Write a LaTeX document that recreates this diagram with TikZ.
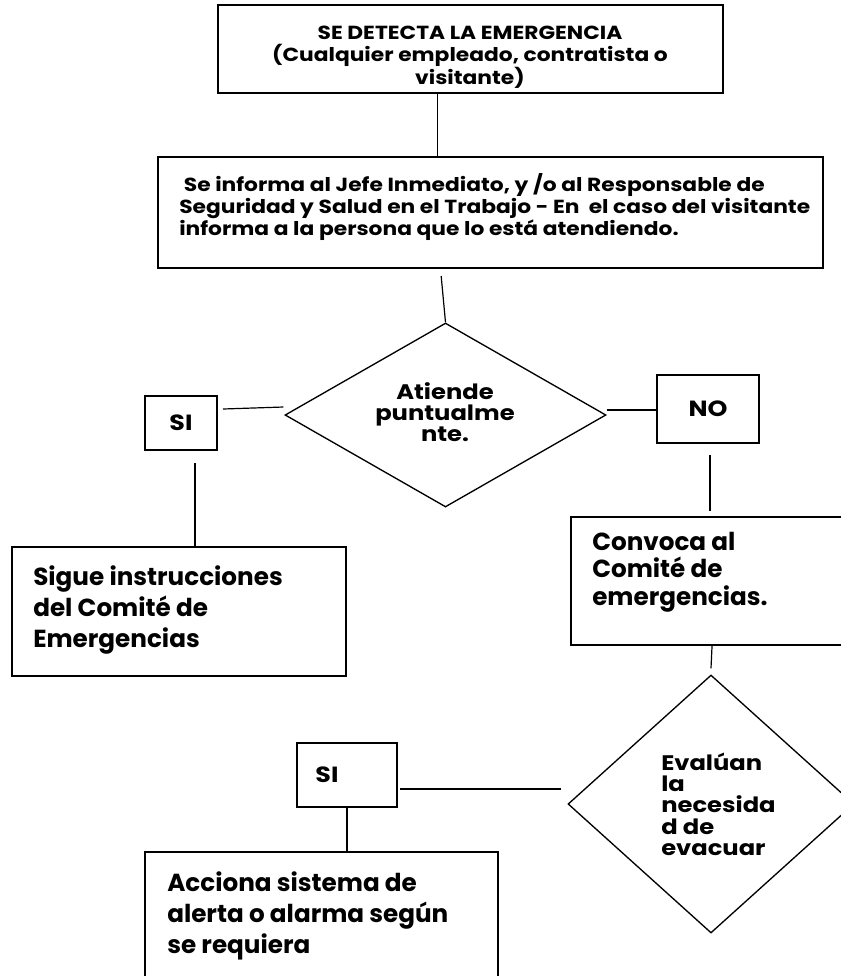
\documentclass[tikz,border=0pt]{standalone}
\usepackage{fontspec}
\setmainfont{Poppins}
\newfontfamily\widefont{Poppins}[FakeStretch=1.15]
\usetikzlibrary{shapes.geometric}
\lineskiplimit=-100pt

\begin{document}
\begin{tikzpicture}[x=0.75pt,y=-0.75pt,font=\bfseries]
  \tikzset{
    frame/.style={draw,line width=1.5pt,inner sep=0pt},
    decision/.style={diamond,draw,line width=1pt,inner sep=0pt},
    link/.style={line width=0.9pt},
    smalltxt/.style={inner sep=0pt,font=\widefont\fontsize{14.2}{16.2}\selectfont\bfseries},
    midtxt/.style={inner sep=0pt,font=\widefont\fontsize{15.8}{16}\selectfont\bfseries},
    bigtxt/.style={inner sep=0pt,align=left,font=\fontsize{18.5}{23.5}\selectfont\bfseries},
    yesno/.style={font=\widefont\fontsize{16.5}{20}\selectfont\bfseries}
  }
  \useasboundingbox (0,0) rectangle (841,976);

  % Detection and report.
  \node[frame,minimum width=378.75pt,minimum height=66pt] (det) at (470.5,49) {};
  \node[smalltxt,align=center,font=\widefont\fontsize{14.2}{16.8}\selectfont\bfseries] (detT) at (470,57)
    {SE DETECTA LA EMERGENCIA\\(Cualquier empleado, contratista o\\visitante)};
  \node[frame,minimum width=498.75pt,minimum height=83.25pt] (inf) at (490.5,212.5) {};
  \node[smalltxt,align=left,anchor=west] (infT) at (179,207)
    {~Se informa al Jefe Inmediato, y /o al Responsable de\\Seguridad y Salud en el Trabajo - En~~el caso del visitante\\informa a la persona que lo est\'a atendiendo.};
  \draw[link] ([xshift=-25pt]det.south) -- ([xshift=-25pt]det.south |- inf.north);

  % First decision.
  \node[decision,minimum width=240.75pt,minimum height=138pt] (d1) at (445.5,415) {};
  \node[midtxt,align=center] (d1T) at (445,412) {Atiende\\puntualme\\nte.};
  \draw[link] ([xshift=-37pt,yshift=-5.25pt]inf.south) -- (d1.north);
  \node[frame,yesno,minimum width=54pt,minimum height=40.5pt] (si1) at (181,423) {SI};
  \node[frame,yesno,minimum width=76.5pt,minimum height=51pt] (no) at (708,409) {NO};
  \draw[link] ([xshift=3.75pt,yshift=10.5pt]si1.east) -- ([xshift=-0.75pt,yshift=6pt]d1.west);
  \draw[link] ([yshift=3.75pt]d1.east) -- ([yshift=3.75pt]d1.east -| no.west);

  % Branches.
  \node[frame,minimum width=250.5pt,minimum height=96.75pt] (sig) at (179,611.5) {};
  \node[bigtxt,anchor=west] (sigT) at (33,610) {Sigue instrucciones\\del Comit\'e de\\Emergencias};
  \draw[link] ([xshift=10.5pt,yshift=-9pt]si1.south) -- ([xshift=10.5pt]si1.south |- sig.north);
  \node[frame,minimum width=246.75pt,minimum height=96pt] (con) at (735.5,581) {};
  \node[bigtxt,anchor=west,font=\fontsize{18.5}{20.5}\selectfont\bfseries] (conT) at (592,572) {Convoca al\\Comit\'e de\\emergencias.};
  \draw[link] ([xshift=1.5pt,yshift=-8.25pt]no.south) -- ([xshift=1.5pt,yshift=3.75pt]no.south |- con.north);

  % Second decision.
  \node[decision,minimum width=214.5pt,minimum height=193.5pt] (d2) at (711,804) {};
  \node[midtxt,align=left,anchor=west] (d2T) at (661,804) {Eval\'uan\\la\\necesida\\d de\\evacuar};
  \draw[link] ([xshift=-17.6pt]con.south) -- ([yshift=4.5pt]d2.north);
  \node[frame,minimum width=75pt,minimum height=48pt] (si2) at (347,775) {};
  \node[inner sep=0pt,yesno] (si2T) at (327,775) {SI};
  \draw[link] ([xshift=1.5pt,yshift=-10.5pt]si2.east) -- ([xshift=-4.5pt,yshift=11.25pt]d2.west);
  \node[frame,minimum width=264.75pt,minimum height=118.5pt] (acc) at (321.5,931) {};
  \node[bigtxt,anchor=west] (accT) at (167,916) {Acciona sistema de\\alerta o alarma seg\'un\\se requiera};
  \draw[link] (si2.south) -- (si2.south |- acc.north);
\end{tikzpicture}
\end{document}
